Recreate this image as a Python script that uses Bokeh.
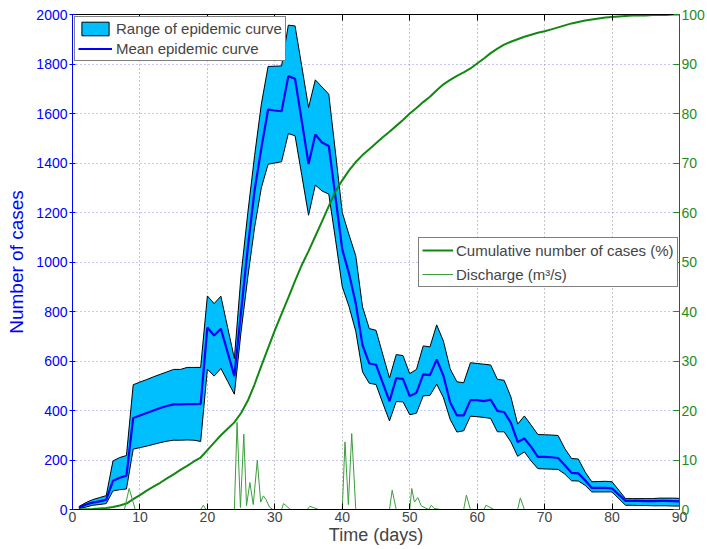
from bokeh.plotting import figure
from bokeh.models import Range1d, LinearAxis, FixedTicker, Legend, LegendItem
from bokeh.embed import file_html
from bokeh.resources import INLINE

days = list(range(1, 91))

mean_cases = [8, 20, 28, 33, 40, 116, 128, 137, 370, 380,
              390, 400, 410, 418, 425, 425, 426, 426, 427, 735,
              703, 730, 635, 539, 800, 1060, 1290, 1460, 1616, 1612,
              1609, 1751, 1740, 1568, 1396, 1515, 1483, 1469, 1260, 1050,
              953, 832, 664, 590, 585, 512, 438, 531, 528, 458,
              472, 546, 543, 606, 540, 432, 380, 380, 442, 442,
              438, 444, 398, 394, 350, 273, 287, 253, 213, 213,
              211, 208, 179, 148, 146, 118, 87, 87, 87, 85,
              60, 35, 35, 35, 34, 34, 35, 35, 34, 33]

upper_cases = [13, 28, 40, 48, 56, 196, 210, 218, 504, 515,
               525, 536, 546, 556, 566, 566, 574, 574, 574, 863,
               832, 862, 736, 610, 950, 1200, 1430, 1638, 1790, 1791,
               1792, 1957, 1954, 1790, 1624, 1736, 1707, 1678, 1440, 1200,
               1110, 1025, 819, 731, 724, 627, 531, 626, 622, 549,
               566, 661, 657, 746, 680, 568, 516, 512, 593, 590,
               587, 584, 526, 522, 455, 345, 378, 341, 303, 302,
               301, 299, 246, 206, 204, 152, 112, 113, 114, 112,
               78, 44, 44, 44, 44, 44, 46, 46, 46, 45]

lower_cases = [4, 10, 17, 20, 24, 75, 80, 83, 244, 250,
               256, 263, 270, 276, 280, 280, 281, 280, 275, 567,
               539, 570, 518, 466, 720, 940, 1140, 1300, 1395, 1400,
               1405, 1519, 1510, 1350, 1189, 1311, 1287, 1274, 1090, 900,
               820, 720, 556, 510, 505, 430, 358, 436, 435, 383,
               389, 459, 461, 506, 452, 364, 313, 318, 377, 375,
               372, 368, 314, 314, 273, 215, 233, 196, 165, 164,
               163, 162, 143, 116, 115, 98, 71, 71, 71, 71,
               44, 17, 17, 16, 16, 15, 15, 15, 14, 14]

cumulative_pct = [0, 0.05, 0.1, 0.2, 0.3, 0.5, 0.8, 1.2, 2.1, 2.9,
                  3.8, 4.6, 5.4, 6.3, 7.1, 8.0, 8.8, 9.7, 10.5, 12.0,
                  13.5, 15.0, 16.3, 17.6, 19.5, 22.0, 25.3, 29.0, 32.6, 36.2,
                  39.5, 42.8, 46.2, 49.4, 52.2, 55.2, 58.2, 61.3, 64.3, 66.5,
                  68.5, 70.2, 71.6, 72.8, 74.0, 75.2, 76.3, 77.5, 78.7, 80.0,
                  81.1, 82.3, 83.4, 84.7, 85.9, 86.8, 87.6, 88.3, 89.1, 90.1,
                  91.1, 92.2, 93.1, 93.9, 94.5, 95.0, 95.5, 95.9, 96.3, 96.6,
                  97.0, 97.4, 97.8, 98.2, 98.5, 98.8, 99.0, 99.2, 99.4, 99.5,
                  99.6, 99.7, 99.8, 99.8, 99.8, 99.9, 99.9, 99.9, 100, 100]

discharge_day = [1, 5.0, 5.3, 5.6, 7.7, 8.4, 9.3, 10, 19.0, 19.4,
                 19.8, 24.0, 24.4, 24.9, 25.4, 25.8, 26.3, 26.8, 27.4, 27.9,
                 28.3, 28.7, 29.2, 29.7, 31.0, 31.3, 32.3, 34.8, 35.2, 36.5,
                 40.0, 40.4, 40.9, 41.4, 42.0, 47.0, 47.4, 48.0, 50.0, 50.3,
                 50.7, 51.2, 51.7, 52.8, 53.2, 53.6, 54.5, 58.0, 58.4, 59.0,
                 61.0, 61.3, 62.5, 66.0, 66.4, 67.0, 90]
discharge_val = [0, 0, 8, 0, 0, 85, 0, 0, 0, 17,
                 0, 0, 352, 8, 304, 15, 109, 20, 199, 30,
                 55, 40, 10, 0, 0, 24, 0, 0, 13, 0,
                 0, 273, 20, 307, 0, 0, 78, 0, 0, 85,
                 30, 48, 15, 0, 17, 5, 0, 0, 58, 0,
                 0, 17, 0, 0, 47, 0, 0]

x_ticks = [0, 10, 20, 30, 40, 50, 60, 70, 80, 90]
y_ticks = [0, 200, 400, 600, 800, 1000, 1200, 1400, 1600, 1800, 2000]
pct_ticks = [0, 10, 20, 30, 40, 50, 60, 70, 80, 90, 100]

FONT = "Liberation Sans"
BLUE = "#0000ff"
GREEN = "#1e8c1e"

p = figure(width=707, height=549, x_range=Range1d(0, 90), y_range=Range1d(0, 2000),
           output_backend="svg", toolbar_location=None,
           min_border_left=72, min_border_right=25, min_border_top=14, min_border_bottom=40)
p.extra_y_ranges = {"pct": Range1d(0, 100)}
p.outline_line_color = "black"
p.background_fill_color = "white"
p.border_fill_color = "white"

# bottom axis
xa = p.xaxis[0]
xa.ticker = FixedTicker(ticks=x_ticks)
xa.axis_label = "Time (days)"
xa.axis_label_text_font = FONT
xa.axis_label_text_font_size = "18px"
xa.axis_label_text_font_style = "normal"
xa.axis_label_standoff = 0
xa.major_label_text_font = FONT
xa.major_label_text_font_size = "14px"
xa.major_label_standoff = 2
xa.major_tick_in = 6
xa.major_tick_out = 0
xa.minor_tick_line_color = None
xa.axis_line_color = "black"
xa.major_tick_line_color = "black"

# left axis
ya = p.yaxis[0]
ya.ticker = FixedTicker(ticks=y_ticks)
ya.axis_label = "Number of cases"
ya.axis_label_text_font = FONT
ya.axis_label_text_font_size = "19px"
ya.axis_label_text_font_style = "normal"
ya.axis_label_text_color = BLUE
ya.axis_label_standoff = 6
ya.major_label_text_font = FONT
ya.major_label_text_font_size = "14px"
ya.major_label_text_color = BLUE
ya.major_label_standoff = 2
ya.major_tick_in = 3
ya.major_tick_out = 3
ya.minor_tick_line_color = None
ya.axis_line_color = BLUE
ya.major_tick_line_color = BLUE

# right axis
ra = LinearAxis(y_range_name="pct", ticker=FixedTicker(ticks=pct_ticks))
ra.major_label_text_font = FONT
ra.major_label_text_font_size = "14px"
ra.major_label_text_color = GREEN
ra.major_label_standoff = 2
ra.axis_label_standoff = 0
ra.major_tick_in = 6
ra.major_tick_out = 0
ra.minor_tick_line_color = None
ra.axis_line_color = "#2f4f6f"
ra.major_tick_line_color = GREEN
p.add_layout(ra, "right")

# top axis (ticks only)
ta = LinearAxis(ticker=FixedTicker(ticks=x_ticks))
ta.major_label_text_font_size = "0px"
ta.major_label_text_color = None
ta.major_label_standoff = 0
ta.axis_label_standoff = 0
ta.major_tick_in = 6
ta.major_tick_out = 0
ta.minor_tick_line_color = None
ta.axis_line_color = "black"
ta.major_tick_line_color = "black"
p.add_layout(ta, "above")

# grids
p.xgrid.ticker = FixedTicker(ticks=x_ticks[1:-1])
p.xgrid.grid_line_color = "#8c8c8c"
p.xgrid.grid_line_dash = "1 3"
p.xgrid.grid_line_width = 1
p.ygrid.ticker = FixedTicker(ticks=y_ticks[1:-1])
p.ygrid.grid_line_color = "#8f8fff"
p.ygrid.grid_line_dash = "1 3"
p.ygrid.grid_line_width = 1

# band
band_x = days + days[::-1]
band_y = upper_cases + lower_cases[::-1]
band_r = p.patch(band_x, band_y, fill_color="#00bfff", line_color="black", line_width=1)
mean_r = p.line(days, mean_cases, line_color=BLUE, line_width=2.2)
cum_r = p.line(days, cumulative_pct, line_color="#118811", line_width=2, y_range_name="pct")
dis_r = p.line(discharge_day, discharge_val, line_color="#3a9e3a", line_width=1)

leg1 = Legend(items=[LegendItem(label="Range of epidemic curve", renderers=[band_r]),
                     LegendItem(label="Mean epidemic curve", renderers=[mean_r])],
              location="top_left")
leg2 = Legend(items=[LegendItem(label="Cumulative number of cases (%)", renderers=[cum_r]),
                     LegendItem(label="Discharge (m\u00b3/s)", renderers=[dis_r])],
              location=(346, 222))
for lg in (leg1, leg2):
    lg.label_text_font = FONT
    lg.label_text_font_size = "15px"
    lg.border_line_color = "black"
    lg.border_line_width = 1
    lg.background_fill_color = "white"
    lg.background_fill_alpha = 1
    lg.margin = 2
    lg.padding = 3
    lg.glyph_width = 34
    lg.glyph_height = 17
    lg.label_height = 17
    lg.label_standoff = 4
    p.add_layout(lg)
leg1.spacing = 3
leg2.spacing = 6
leg2.glyph_height = 18
leg2.label_height = 18
leg2.glyph_width = 31
leg2.label_standoff = 3

open("out.html", "w").write(file_html(p, INLINE))
